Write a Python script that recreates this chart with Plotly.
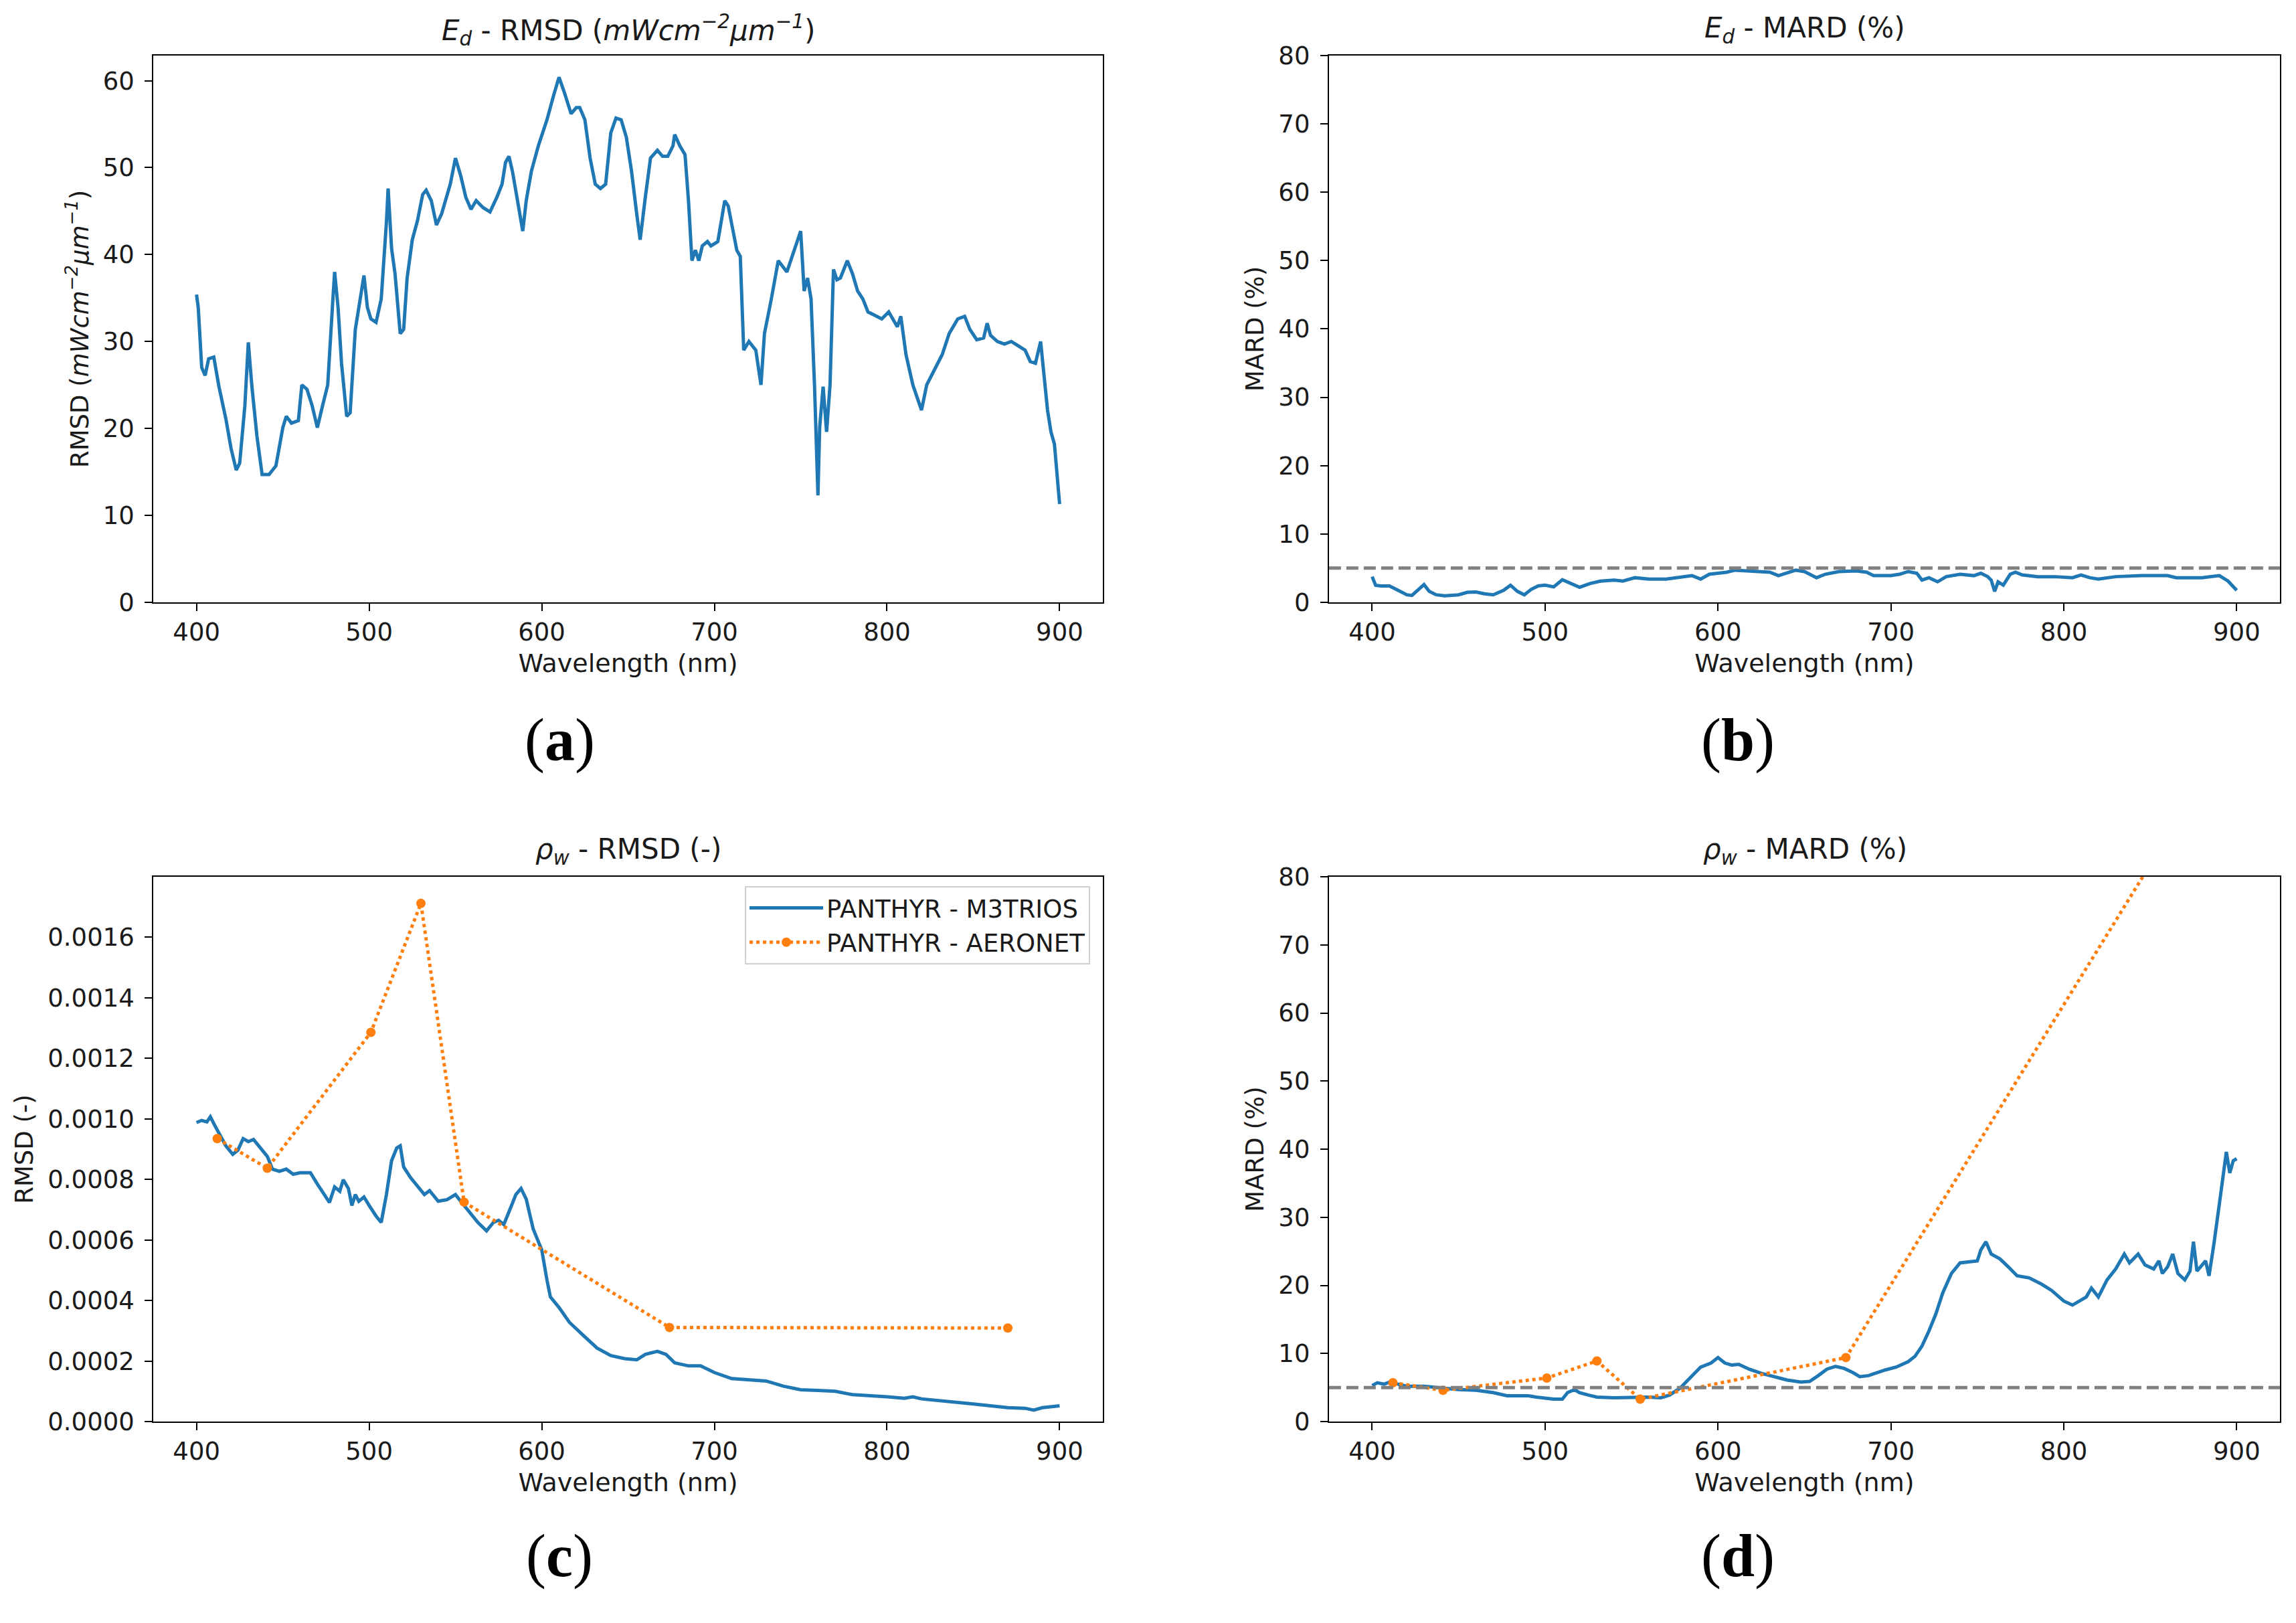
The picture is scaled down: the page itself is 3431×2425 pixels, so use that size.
import plotly.graph_objects as go

# Ed RMSD (panel a)
wl_ed_rmsd = [400, 401, 403, 405, 407, 410, 413, 417, 420, 423, 425, 428, 430, 432, 435, 438, 442, 446,
              450, 452, 455, 459, 461, 464, 467, 470, 473, 476, 479, 480, 482, 484, 487, 489, 492, 495,
              497, 499, 501, 504, 507, 510, 511, 513, 515, 518, 520, 522, 525, 528, 531, 533, 536, 539,
              542, 547, 550, 553, 556, 559, 562, 566, 570, 574, 577, 579, 581, 583, 586, 589, 591, 594,
              598, 603, 607, 610, 613, 617, 620, 622, 625, 628, 631, 634, 637, 640, 643, 646, 649, 652,
              655, 657, 660, 663, 667, 670, 673, 676, 677, 680, 683, 685, 687, 689, 691, 693, 696, 698,
              702, 706, 708, 710, 713, 715, 717, 720, 724, 727, 729, 733, 737, 742, 746, 750, 752, 754,
              756, 758, 760, 761, 763, 765, 767, 769, 771, 773, 777, 780, 783, 786, 789, 792, 797, 801,
              804, 806, 808, 811, 815, 818, 820, 823, 827, 832, 836, 841, 845, 848, 852, 856, 858, 860,
              864, 868, 872, 876, 880, 883, 886, 889, 891, 893, 895, 897, 900]
ed_rmsd = [35.4, 33.9, 27.0, 26.1, 28.0, 28.2, 24.8, 21.1, 17.7, 15.2, 16.0, 22.6, 29.9, 25.0, 19.1, 14.7,
           14.7, 15.7, 20.1, 21.4, 20.6, 20.9, 25.0, 24.5, 22.6, 20.1, 22.6, 25.0, 34.9, 38.0, 33.9, 27.5,
           21.4, 21.8, 31.4, 34.9, 37.6, 33.9, 32.6, 32.2, 34.9, 43.7, 47.6, 40.7, 37.8, 30.9, 31.4, 37.3,
           41.7, 43.9, 46.9, 47.4, 46.2, 43.4, 44.7, 48.1, 51.1, 49.1, 46.6, 45.2, 46.2, 45.4, 44.9, 46.6,
           48.1, 50.6, 51.3, 49.6, 46.2, 42.7, 46.2, 49.6, 52.5, 55.5, 58.4, 60.4, 58.7, 56.2, 56.9, 56.9,
           55.5, 51.1, 48.1, 47.6, 48.1, 54.0, 55.7, 55.5, 53.5, 49.6, 44.7, 41.7, 46.6, 51.1, 52.0, 51.3,
           51.3, 52.5, 53.8, 52.5, 51.5, 46.2, 39.3, 40.5, 39.3, 41.0, 41.5, 41.0, 41.5, 46.2, 45.6, 43.7,
           40.5, 39.8, 29.0, 30.0, 29.0, 25.0, 30.9, 34.9, 39.3, 38.0, 40.3, 42.7, 35.8, 37.3, 34.9, 25.0,
           12.3, 20.1, 24.8, 19.6, 25.0, 38.3, 37.1, 37.3, 39.3, 37.8, 35.8, 34.9, 33.4, 33.1, 32.6, 33.4,
           32.4, 31.7, 32.9, 28.5, 25.0, 23.1, 22.1, 25.0, 26.5, 28.5, 30.9, 32.6, 32.9, 31.4, 30.2, 30.4,
           32.1, 30.7, 30.0, 29.7, 30.0, 29.5, 29.0, 27.7, 27.5, 30.0, 26.0, 22.1, 19.6, 18.2, 11.3]

# Ed MARD (panel b)
wl_ed_mard = [400, 402, 405, 410, 415, 420, 423, 427, 430, 433, 437, 442, 450, 455, 460, 465, 470, 476,
              480, 484, 488, 492, 496, 500, 505, 510, 515, 520, 526, 532, 540, 545, 552, 560, 570, 580,
              585, 590, 595, 600, 605, 610, 620, 630, 635, 640, 645, 650, 657, 662, 670, 680, 686, 690,
              700, 705, 710, 715, 718, 722, 727, 732, 740, 748, 752, 756, 758, 760, 762, 765, 769, 772,
              776, 785, 795, 805, 810, 815, 820, 830, 845, 860, 865, 880, 890, 895, 900]
ed_mard = [3.75, 2.5, 2.4, 2.4, 1.75, 1.1, 1.0, 1.9, 2.6, 1.6, 1.1, 0.95, 1.1, 1.45, 1.5, 1.25, 1.1, 1.75,
           2.5, 1.6, 1.1, 1.9, 2.4, 2.5, 2.25, 3.3, 2.7, 2.2, 2.75, 3.1, 3.25, 3.1, 3.6, 3.4, 3.4, 3.75,
           3.9, 3.4, 4.1, 4.25, 4.4, 4.7, 4.6, 4.4, 3.9, 4.25, 4.7, 4.5, 3.6, 4.1, 4.5, 4.6, 4.4, 3.9,
           3.9, 4.1, 4.5, 4.25, 3.25, 3.6, 3.0, 3.75, 4.1, 3.9, 4.25, 3.75, 3.25, 1.6, 3.0, 2.5, 4.1, 4.4,
           4.0, 3.75, 3.75, 3.6, 4.0, 3.6, 3.4, 3.75, 3.9, 3.9, 3.6, 3.6, 3.9, 3.1, 1.75]

# rho_w RMSD (panel c)
wl_rw_rmsd = [400, 403, 406, 408, 411, 414, 417, 421, 424, 427, 430, 433, 437, 441, 444, 448, 452, 456,
              460, 466, 470, 474, 477, 480, 483, 485, 488, 490, 492, 494, 497, 500, 504, 507, 510, 513,
              516, 518, 520, 524, 528, 532, 535, 540, 545, 550, 553, 557, 563, 568, 572, 575, 578, 582,
              585, 588, 591, 595, 600, 603, 605, 610, 616, 624, 632, 640, 648, 655, 660, 667, 672, 677,
              685, 692, 700, 710, 720, 730, 740, 750, 760, 770, 780, 790, 800, 810, 815, 820, 830, 840,
              850, 860, 870, 880, 885, 890, 895, 900]
rw_rmsd = [0.000988, 0.000995, 0.00099, 0.001007, 0.000974, 0.00094, 0.000911, 0.000883, 0.000897,
           0.000935, 0.000925, 0.000932, 0.000904, 0.000876, 0.000834, 0.000827, 0.000834, 0.000817,
           0.000822, 0.000822, 0.000785, 0.00075, 0.000724, 0.000775, 0.000761, 0.000799, 0.00077,
           0.000714, 0.00075, 0.000728, 0.000742, 0.000714, 0.000679, 0.000658, 0.00075, 0.000862,
           0.000904, 0.000911, 0.000841, 0.000806, 0.000778, 0.00075, 0.000763, 0.000728, 0.000733,
           0.00075, 0.000728, 0.0007, 0.000658, 0.00063, 0.000658, 0.000665, 0.000651, 0.000707,
           0.00075, 0.00077, 0.000735, 0.000637, 0.000567, 0.000468, 0.000412, 0.000377, 0.000328,
           0.000285, 0.000243, 0.000218, 0.000208, 0.000204, 0.000222, 0.000232, 0.000222, 0.000194,
           0.000184, 0.000184, 0.000162, 0.000142, 0.000138, 0.000134, 0.000117, 0.000105, 0.000103,
           0.0001, 0.000089, 0.000086, 0.000082, 0.000077, 0.000082, 0.000075, 0.00007, 0.000063,
           0.000058, 0.000052, 0.000046, 0.000044, 0.000038, 0.000046, 0.000049, 0.000052]

# rho_w MARD (panel d)
wl_rw_mard = [400, 403, 407, 410, 415, 420, 430, 440, 450, 460, 470, 478, 485, 490, 495, 500, 505, 510,
              513, 517, 520, 525, 530, 540, 550, 560, 567, 572, 578, 584, 590, 596, 600, 604, 608, 612,
              618, 625, 632, 640, 648, 653, 658, 663, 668, 673, 678, 682, 687, 692, 697, 703, 710, 714,
              718, 722, 726, 730, 735, 740, 745, 750, 752, 755, 758, 763, 768, 773, 780, 787, 793, 800,
              805, 809, 813, 816, 820, 825, 830, 835, 838, 843, 847, 852, 855, 857, 860, 863, 866, 870,
              873, 875, 877, 880, 882, 884, 887, 891, 894, 896, 898, 900]
rw_mard = [5.3, 5.7, 5.5, 5.8, 5.5, 5.2, 5.2, 4.9, 4.7, 4.6, 4.25, 3.8, 3.8, 3.8, 3.6, 3.4, 3.3, 3.3,
           4.25, 4.7, 4.25, 3.9, 3.6, 3.5, 3.6, 3.6, 3.5, 3.9, 4.9, 6.4, 8.0, 8.6, 9.4, 8.6, 8.3, 8.4,
           7.7, 7.1, 6.6, 6.1, 5.8, 5.9, 6.75, 7.7, 8.1, 7.8, 7.2, 6.6, 6.75, 7.2, 7.6, 8.0, 8.8, 9.6,
           11.1, 13.3, 15.8, 18.9, 21.75, 23.3, 23.4, 23.6, 25.2, 26.4, 24.6, 23.9, 22.7, 21.4, 21.1,
           20.2, 19.25, 17.7, 17.1, 17.7, 18.3, 19.6, 18.3, 20.8, 22.4, 24.6, 23.3, 24.6, 23.0, 22.4,
           23.6, 21.75, 22.7, 24.6, 21.75, 20.8, 22.1, 26.4, 22.1, 23.0, 23.6, 21.4, 26.4, 33.9, 39.6,
           36.5, 38.3, 38.6]

# AERONET bands
wl_aeronet = [412, 441, 501, 530, 555, 674, 870]
aeronet_rmsd = [0.000935, 0.000837, 0.001286, 0.001712, 0.000725, 0.000311, 0.000309]
aeronet_mard = [5.7, 4.6, 6.4, 8.9, 3.3, 9.4, 90.0]

blue = "#1f77b4"
orange = "#ff7f0e"
font = "DejaVu Sans"
txt = "#1a1a1a"

# the html page adds an 8px body margin; pull everything back by that much
dx = 8 / 3431
dy = 8 / 2425

fig = go.Figure()

fig.add_trace(go.Scatter(x=wl_ed_rmsd, y=ed_rmsd, mode="lines", line=dict(color=blue, width=5),
                         xaxis="x", yaxis="y", showlegend=False))
fig.add_trace(go.Scatter(x=wl_ed_mard, y=ed_mard, mode="lines", line=dict(color=blue, width=5),
                         xaxis="x2", yaxis="y2", showlegend=False))
fig.add_trace(go.Scatter(x=wl_rw_rmsd, y=rw_rmsd, mode="lines", line=dict(color=blue, width=5),
                         xaxis="x3", yaxis="y3", name="PANTHYR - M3TRIOS"))
fig.add_trace(go.Scatter(x=wl_aeronet, y=aeronet_rmsd, mode="lines+markers",
                         line=dict(color=orange, width=5, dash="dot"), marker=dict(size=14, color=orange),
                         xaxis="x3", yaxis="y3", name="PANTHYR - AERONET"))
fig.add_trace(go.Scatter(x=wl_rw_mard, y=rw_mard, mode="lines", line=dict(color=blue, width=5),
                         xaxis="x4", yaxis="y4", showlegend=False))
fig.add_trace(go.Scatter(x=wl_aeronet, y=aeronet_mard, mode="lines+markers",
                         line=dict(color=orange, width=5, dash="dot"), marker=dict(size=14, color=orange),
                         xaxis="x4", yaxis="y4", showlegend=False, cliponaxis=True))

# 5% reference line on the MARD panels
for xr, yr in [("x2", "y2"), ("x4", "y4")]:
    fig.add_shape(type="line", xref=xr + " domain", yref=yr, x0=0, x1=1, y0=5, y1=5,
                  line=dict(color="#808080", width=5, dash="18px,8px"))

xdom = [[0.0668 - dx, 0.4803 - dx], [0.5788 - dx, 0.9930 - dx]]
ydom = [[0.6289 + dy, 0.9658 + dy], [0.1241 + dy, 0.4598 + dy]]

axis_common = dict(showline=True, linecolor="black", linewidth=2, mirror=True, ticks="outside",
                   ticklen=11, tickwidth=2, tickcolor="black", showgrid=False, zeroline=False,
                   automargin=False, tickfont=dict(family=font, size=37, color=txt))

layout_axes = {}
names = ["", "2", "3", "4"]
yranges = [[0, 62.9], [0, 80], [0, 0.0018], [0, 80]]
ytitles = ["RMSD (<i>mWcm<sup>−2</sup>μm<sup>−1</sup></i>)", "MARD (%)", "RMSD (-)", "MARD (%)"]
for i, n in enumerate(names):
    col = i % 2
    row = i // 2
    layout_axes["xaxis" + n] = dict(axis_common, domain=xdom[col], anchor="y" + n, range=[375, 925],
                                    tickvals=[400, 500, 600, 700, 800, 900],
                                    title=dict(text="Wavelength (nm)", standoff=12,
                                               font=dict(family=font, size=38, color=txt)))
    ya = dict(axis_common, domain=ydom[row], anchor="x" + n, range=yranges[i], ticklabelstandoff=8,
              title=dict(text=ytitles[i], standoff=10, font=dict(family=font, size=37, color=txt)))
    if i == 2:
        ya["tickvals"] = [0, 0.0002, 0.0004, 0.0006, 0.0008, 0.0010, 0.0012, 0.0014, 0.0016]
        ya["tickformat"] = ".4f"
    elif i == 0:
        ya["tickvals"] = [0, 10, 20, 30, 40, 50, 60]
    else:
        ya["tickvals"] = [0, 10, 20, 30, 40, 50, 60, 70, 80]
    layout_axes["yaxis" + n] = ya

titles = ["<i>E<sub>d</sub></i> - RMSD (<i>mWcm<sup>−2</sup>μm<sup>−1</sup></i>)",
          "<i>E<sub>d</sub></i> - MARD (%)",
          "<i>ρ<sub>w</sub></i> - RMSD (-)",
          "<i>ρ<sub>w</sub></i> - MARD (%)"]
title_pos = [(0.2736, 0.9815), (0.7862, 0.9815), (0.2736, 0.4755), (0.7862, 0.4755)]
letters = ["a", "b", "c", "d"]
letter_pos = [(0.2437, 0.5440), (0.757, 0.5440), (0.2437, 0.0412), (0.757, 0.0412)]

annotations = []
for t, (x, y) in zip(titles, title_pos):
    annotations.append(dict(text=t, x=x - dx, y=y + dy, xref="paper", yref="paper", showarrow=False,
                            xanchor="center", yanchor="middle",
                            font=dict(family=font, size=42, color=txt)))
for l, (x, y) in zip(letters, letter_pos):
    annotations.append(dict(text="(<b>" + l + "</b>)", x=x - dx, y=y + dy, xref="paper", yref="paper",
                            showarrow=False, xanchor="center", yanchor="middle",
                            font=dict(family="Liberation Serif", size=90, color="black")))

fig.update_layout(
    width=3431, height=2425, autosize=False,
    margin=dict(l=0, r=0, t=0, b=0),
    paper_bgcolor="white", plot_bgcolor="white",
    annotations=annotations,
    legend=dict(x=0.4748 - dx, y=0.454 + dy, xanchor="right", yanchor="top",
                bgcolor="rgba(255,255,255,0.9)", bordercolor="#d0d0d0", borderwidth=2, tracegroupgap=4,
                font=dict(family=font, size=37, color=txt), itemwidth=110),
    **layout_axes
)

fig.write_html("out.html")
